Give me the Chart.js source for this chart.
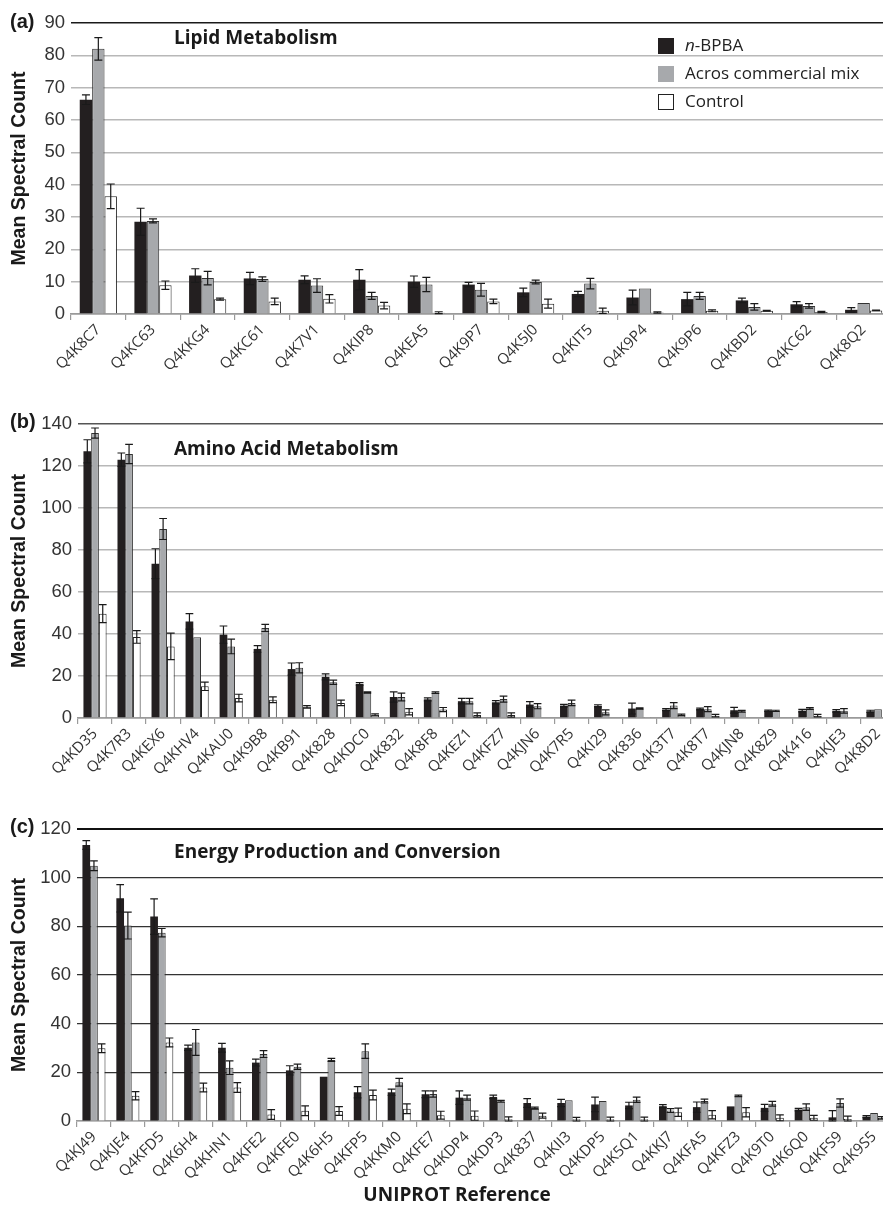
<!DOCTYPE html>
<html>
<head>
<meta charset="utf-8">
<script src="https://cdn.jsdelivr.net/npm/chart.js@4.4.1/dist/chart.umd.min.js"></script>
<style>
  html, body { margin: 0; padding: 0; background: #fff; overflow: hidden; width: 883px; height: 1209px; }
  canvas.panel { position: absolute; left: 0; }
</style>
</head>
<body>
<canvas id="chartA" class="panel" style="top:0px" width="892" height="370"></canvas>
<canvas id="chartB" class="panel" style="top:380px" width="896" height="410"></canvas>
<canvas id="chartC" class="panel" style="top:800px" width="892" height="409"></canvas>
<script>
/* ── Data ───────────────────────────────────────────────────── */

const seriesNames = ["n-BPBA", "Acros commercial mix", "Control"];

// (a) Lipid Metabolism
const catsA    = ["Q4K8C7","Q4KC63","Q4KKG4","Q4KC61","Q4K7V1","Q4KIP8","Q4KEA5","Q4K9P7","Q4K5J0","Q4KIT5","Q4K9P4","Q4K9P6","Q4KBD2","Q4KC62","Q4K8Q2"];
const bpbaA    = [66.3, 28.5, 11.9, 11.0, 10.6, 10.6, 10.0, 9.1, 6.7, 6.2, 5.1, 4.6, 4.2, 3.0, 1.3];
const bpbaErrA = [1.5, 4.2, 2.1, 1.9, 1.2, 3.1, 1.75, 0.7, 1.3, 0.8, 2.3, 2.1, 0.7, 0.8, 0.7];
const acrosA   = [82.0, 28.8, 11.1, 10.8, 8.8, 5.6, 9.1, 7.5, 9.9, 9.4, 7.9, 5.6, 2.2, 2.5, 3.4];
const acrosErrA= [3.5, 0.6, 2.1, 0.7, 2.1, 1.1, 2.2, 2.0, 0.6, 1.6, 0, 1.1, 1.0, 0.7, 0];
const ctrlA    = [36.4, 8.9, 4.6, 3.9, 4.7, 2.6, 0.4, 3.9, 3.2, 1.0, 0.5, 1.0, 1.0, 0.6, 1.1];
const ctrlErrA = [3.8, 1.3, 0.3, 1.0, 1.3, 1.0, 0.3, 0.7, 1.4, 0.8, 0.2, 0.3, 0.1, 0.2, 0.1];
const ticksA   = { max: 90, step: 10 };

// (b) Amino Acid Metabolism
const catsB    = ["Q4KD35","Q4K7R3","Q4KEX6","Q4KHV4","Q4KAU0","Q4K9B8","Q4KB91","Q4K828","Q4KDC0","Q4K832","Q4K8F8","Q4KEZ1","Q4KFZ7","Q4KJN6","Q4K7R5","Q4KI29","Q4K836","Q4K3T7","Q4K8T7","Q4KJN8","Q4K8Z9","Q4K416","Q4KJE3","Q4K8D2"];
const bpbaB    = [127, 123, 73.5, 46, 39.7, 32.9, 23.3, 19.6, 16.2, 10, 8.9, 8, 7.5, 6.4, 5.9, 5.8, 4.5, 4, 4.3, 3.7, 3.5, 3.5, 3.4, 3.2];
const bpbaErrB = [5.5, 3.2, 7.1, 3.7, 4.1, 1.6, 2.9, 1.4, 0.6, 2.4, 0.7, 1.3, 0.8, 1.4, 0.6, 0.5, 2.6, 0.5, 0.4, 1.4, 0.3, 0.6, 0.6, 0.5];
const acrosB   = [135.7, 125.7, 90, 38.4, 34.1, 42.9, 23.9, 17, 12.1, 10, 12.1, 8, 9, 5.6, 7.2, 2.7, 4.5, 5.9, 4.2, 3.2, 3.4, 4.5, 3.4, 4.2];
const acrosErrB= [2.4, 4.6, 5, 0, 3.5, 1.7, 2.4, 1, 0.3, 1.8, 0.4, 1.3, 1.4, 1.2, 1.3, 1.2, 0.3, 1.4, 1.2, 0.4, 0.3, 0.4, 1.1, 0];
const ctrlB    = [49.7, 38.6, 34.1, 15.1, 9.5, 8.7, 5.3, 7.2, 1.5, 3, 4, 1.4, 1.4, 0, 0, 0, 0.5, 1.4, 1.1, 0, 0, 1.1, 0, 0];
const ctrlErrB = [4.3, 3, 6.3, 2, 1.8, 1.4, 0.6, 1.3, 0.5, 1.5, 1, 1, 1, 0, 0, 0, 0, 0.4, 0.6, 0, 0, 0.6, 0, 0];
const ticksB   = { max: 140, step: 20 };

// (c) Energy Production and Conversion
const catsC    = ["Q4KJ49","Q4KJE4","Q4KFD5","Q4K6H4","Q4KHN1","Q4KFE2","Q4KFE0","Q4K6H5","Q4KFP5","Q4KKM0","Q4KFE7","Q4KDP4","Q4KDP3","Q4K837","Q4KII3","Q4KDP5","Q4K5Q1","Q4KKJ7","Q4KFA5","Q4KFZ3","Q4K9T0","Q4K6Q0","Q4KFS9","Q4K9S5"];
const bpbaC    = [113.4, 91.5, 84, 30.1, 30.1, 24, 20.8, 18.2, 11.8, 11.8, 11, 9.6, 9.9, 7.4, 7.4, 6.8, 6.4, 6.1, 5.7, 6, 5.4, 4.7, 1.5, 1.8];
const bpbaErrC = [1.8, 5.6, 7.3, 1.1, 1.8, 1.4, 1.9, 0, 2.3, 1.3, 1.4, 2.8, 0.7, 1.8, 1.5, 3, 1.3, 0.6, 2.1, 0, 1.4, 0.5, 2.8, 0.4];
const acrosC   = [104.9, 80.3, 77.4, 32.3, 21.9, 27.5, 22.3, 25.1, 28.7, 15.9, 11.1, 9.6, 8.1, 5.3, 8.5, 8.2, 8.75, 4.3, 8.2, 10.3, 7.1, 5.7, 7.4, 3.3];
const acrosErrC= [2, 5.5, 1.7, 5.3, 2.8, 1.4, 1.1, 0.6, 3, 1.6, 1.3, 1, 0.4, 0.4, 0, 0, 1.1, 0.8, 0.8, 0.3, 1, 1.3, 1.7, 0];
const ctrlC    = [29.9, 10.4, 32.3, 13.8, 13.8, 2.7, 4.2, 4.1, 10.7, 5, 2.4, 2.2, 0.7, 2.2, 0.7, 0.7, 0.7, 3.6, 2.6, 3.6, 1.3, 1.3, 0.8, 1.3];
const ctrlErrC = [1.8, 1.7, 1.8, 1.8, 2, 2, 2, 1.8, 2, 2, 1.6, 1.9, 1, 1, 0.8, 0.9, 0.9, 1.7, 1.7, 1.9, 1.2, 1, 1.2, 0.5];
const ticksC   = { max: 120, step: 20 };

/* ── Styles ─────────────────────────────────────────────────── */

const FILL   = ["#231f20", "#a7a9ac", "#ffffff"];
const BORDER = ["#231f20", "#333333", "#222222"];

/* ── Plugins ────────────────────────────────────────────────── */

// symmetric error bars, drawn through the y scale
const errorBars = {
  id: "errorBars",
  afterDatasetsDraw(chart) {
    const ctx = chart.ctx, y = chart.scales.y;
    ctx.save();
    ctx.strokeStyle = "#1a1a1a";
    ctx.lineWidth = 1.2;
    chart.data.datasets.forEach((ds, i) => {
      chart.getDatasetMeta(i).data.forEach((bar, j) => {
        const e = ds.errors[j];
        if (!e) return;
        const v = ds.data[j];
        const yt = y.getPixelForValue(v + e);
        const yb = y.getPixelForValue(Math.max(0, v - e));
        const half = Math.min(4, bar.width / 2);
        ctx.beginPath();
        ctx.moveTo(bar.x, yt); ctx.lineTo(bar.x, yb);
        ctx.moveTo(bar.x - half, yt); ctx.lineTo(bar.x + half, yt);
        ctx.moveTo(bar.x - half, yb); ctx.lineTo(bar.x + half, yb);
        ctx.stroke();
      });
    });
    ctx.restore();
  }
};

// panel letter, panel title, legend, x title
const panelText = {
  id: "panelText",
  afterDraw(chart, args, o) {
    const ctx = chart.ctx;
    ctx.save();
    ctx.fillStyle = "#1a1a1a";
    ctx.textBaseline = "middle";
    ctx.font = 'bold 20px "Liberation Sans", Arial, sans-serif';
    ctx.fillText(o.label, 10, o.labelY);
    ctx.font = 'bold 19px "Open Sans", sans-serif';
    ctx.fillText(o.title, 174, o.titleY);

    if (o.xTitle) {
      ctx.textAlign = "center";
      ctx.font = 'bold 19px "Open Sans", sans-serif';
      ctx.fillText(o.xTitle, 457, o.xTitleY);
      ctx.textAlign = "left";
    }

    if (o.legend) {
      const rows = [46, 74, 102];
      chart.data.datasets.forEach((ds, i) => {
        const yc = rows[i];
        ctx.fillStyle = ds.backgroundColor;
        ctx.fillRect(658, yc - 8, 16, 16);
        if (i === 2) {
          ctx.strokeStyle = "#222";
          ctx.lineWidth = 1;
          ctx.strokeRect(658.5, yc - 7.5, 15, 15);
        }
        ctx.fillStyle = "#222";
        let x = 685;
        let name = ds.label;
        if (name.startsWith("n-")) {
          ctx.font = 'italic 17px "Open Sans", sans-serif';
          ctx.fillText("n", x, yc);
          x += ctx.measureText("n").width;
          name = name.slice(1);
        }
        ctx.font = '17px "Open Sans", sans-serif';
        ctx.fillText(name, x, yc);
      });
    }
    ctx.restore();
  }
};

/* ── Builder ────────────────────────────────────────────────── */

function makeChart(id, cats, values, errors, ticks, geo, text) {
  const datasets = values.map((vals, i) => ({
    label: seriesNames[i],
    data: vals,
    errors: errors[i],
    backgroundColor: FILL[i],
    borderColor: BORDER[i],
    borderWidth: i === 0 ? 0 : 1,
    categoryPercentage: 0.68,
    barPercentage: 1.0,
  }));

  return new Chart(document.getElementById(id), {
    type: "bar",
    data: { labels: cats, datasets },
    plugins: [errorBars, panelText],
    options: {
      responsive: false,
      devicePixelRatio: 1,
      animation: false,
      layout: { padding: { top: geo.top, right: 1, left: 0, bottom: 0 } },
      plugins: {
        legend: { display: false },
        tooltip: { enabled: false },
        panelText: text,
      },
      scales: {
        x: {
          grid: { display: true, drawOnChartArea: false, drawTicks: true, tickLength: 6, color: "#9a9a9a", lineWidth: 1.2 },
          border: { display: true, color: "#9a9a9a", width: 1.5 },
          ticks: {
            autoSkip: false, minRotation: 45, maxRotation: 45, padding: 1,
            color: "#333", font: { family: "Open Sans", size: 15 },
          },
          afterFit: s => { s.height = geo.xh; },
        },
        y: {
          min: 0, max: ticks.max,
          border: { display: false },
          grid: {
            drawTicks: false,
            color: c => c.tick.value === ticks.max ? geo.topColor : c.tick.value === 0 ? "#9a9a9a" : geo.gridColor,
            lineWidth: c => c.tick.value === ticks.max ? geo.topWidth : geo.gridWidth,
          },
          ticks: {
            stepSize: ticks.step, padding: 6,
            color: "#333", font: { family: "Liberation Sans", size: 18.5 },
          },
          title: {
            display: true, text: "Mean Spectral Count",
            color: "#1a1a1a", font: { family: "Liberation Sans", size: 19.5, weight: "bold" },
            padding: { top: 8, bottom: 0 },
          },
          afterFit: s => { s.width = geo.yw; },
        },
      },
    },
  });
}

makeChart("chartA", catsA, [bpbaA, acrosA, ctrlA], [bpbaErrA, acrosErrA, ctrlErrA], ticksA,
  { top: 23, xh: 56, yw: 71, topColor: "#1a1a1a", topWidth: 1.6, gridColor: "#b8b8b8", gridWidth: 1.5 },
  { label: "(a)", labelY: 22, title: "Lipid Metabolism", titleY: 39, legend: true });

makeChart("chartB", catsB, [bpbaB, acrosB, ctrlB], [bpbaErrB, acrosErrB, ctrlErrB], ticksB,
  { top: 44, xh: 72, yw: 78, topColor: "#555555", topWidth: 1.6, gridColor: "#b8b8b8", gridWidth: 1.5 },
  { label: "(b)", labelY: 42, title: "Amino Acid Metabolism", titleY: 69.5 });

makeChart("chartC", catsC, [bpbaC, acrosC, ctrlC], [bpbaErrC, acrosErrC, ctrlErrC], ticksC,
  { top: 29, xh: 88, yw: 77, topColor: "#111111", topWidth: 2, gridColor: "#333333", gridWidth: 1.2 },
  { label: "(c)", labelY: 27, title: "Energy Production and Conversion", titleY: 52.5, xTitle: "UNIPROT Reference", xTitleY: 396 });
</script>
</body>
</html>
